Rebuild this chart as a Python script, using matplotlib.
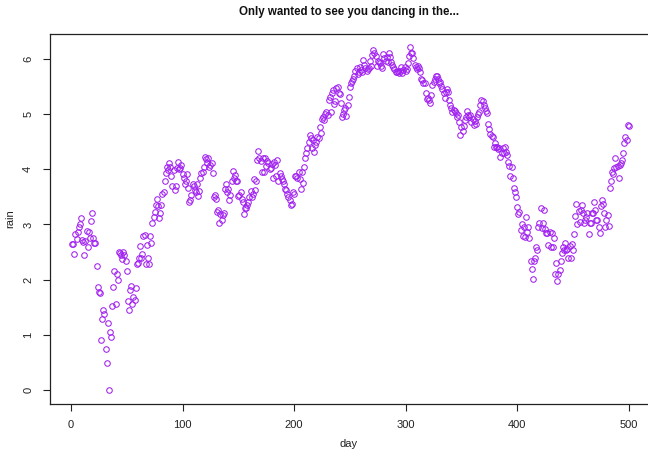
import matplotlib
matplotlib.use("Agg")
import matplotlib.pyplot as plt
import numpy as np

# daily rain values, day 1..500
rain = [
    2.65, 2.65, 2.46, 2.83, 2.74, 2.86, 2.95, 3.00, 3.11, 2.72,
    2.69, 2.44, 2.70, 2.89, 2.60, 2.86, 2.76, 3.07, 3.21, 2.76,
    2.66, 2.66, 2.24, 1.86, 1.77, 1.75, 0.90, 1.28, 1.45, 1.37,
    0.74, 0.49, 1.22, 0.00, 1.06, 0.96, 1.52, 1.87, 2.16, 1.56,
    2.10, 2.00, 2.51, 2.48, 2.45, 2.37, 2.51, 2.44, 2.33, 2.16,
    1.61, 1.45, 1.82, 1.89, 1.56, 1.69, 1.64, 1.84, 2.29, 2.31,
    2.39, 2.61, 2.40, 2.47, 2.79, 2.81, 2.29, 2.63, 2.39, 2.28,
    2.79, 2.67, 3.03, 3.14, 3.23, 3.35, 3.46, 3.34, 3.11, 3.20,
    3.35, 3.55, 3.58, 3.79, 3.94, 4.04, 3.98, 4.12, 4.05, 3.88,
    3.69, 3.99, 3.63, 3.69, 4.02, 4.14, 4.01, 4.02, 4.08, 3.91,
    3.84, 3.73, 3.78, 3.91, 3.67, 3.41, 3.44, 3.53, 3.73, 3.69,
    3.63, 3.58, 3.74, 3.52, 3.60, 3.85, 3.93, 3.96, 4.05, 4.23,
    4.18, 4.11, 4.20, 4.05, 4.08, 4.12, 3.93, 3.49, 3.53, 3.47,
    3.23, 3.27, 3.03, 3.19, 3.09, 3.17, 3.20, 3.64, 3.73, 3.58,
    3.65, 3.44, 3.53, 3.79, 3.97, 3.84, 3.90, 3.78, 3.79, 3.52,
    3.53, 3.59, 3.47, 3.40, 3.19, 3.29, 3.29, 3.35, 3.40, 3.50,
    3.61, 3.49, 3.55, 3.82, 3.63, 3.79, 4.17, 4.33, 4.20, 4.15,
    3.96, 4.21, 3.96, 4.21, 4.06, 4.15, 4.12, 4.00, 4.03, 4.09,
    3.84, 4.14, 4.08, 3.88, 4.17, 3.78, 3.93, 3.87, 3.82, 3.78,
    3.74, 3.65, 3.63, 3.56, 3.50, 3.44, 3.35, 3.38, 3.58, 3.56,
    3.87, 3.88, 3.84, 3.96, 3.82, 3.64, 3.96, 3.76, 4.05, 4.20,
    4.29, 4.38, 4.50, 4.62, 4.56, 4.38, 4.53, 4.32, 4.44, 4.50,
    4.59, 4.56, 4.77, 4.65, 4.91, 4.95, 4.89, 5.00, 5.04, 4.98,
    5.26, 5.32, 5.04, 5.39, 5.44, 5.18, 5.23, 5.47, 5.50, 5.38,
    5.36, 5.21, 4.95, 5.01, 5.08, 5.11, 4.97, 5.17, 5.32, 5.50,
    5.57, 5.60, 5.63, 5.69, 5.79, 5.83, 5.72, 5.77, 5.86, 5.80,
    5.76, 5.99, 5.90, 5.83, 5.78, 5.81, 5.83, 5.97, 5.87, 6.07,
    6.16, 6.10, 6.05, 5.87, 5.97, 5.94, 5.92, 5.88, 5.83, 6.09,
    6.01, 5.97, 6.04, 5.95, 6.11, 6.03, 5.95, 5.89, 5.86, 5.82,
    5.77, 5.76, 5.78, 5.74, 5.79, 5.86, 5.75, 5.80, 5.86, 5.79,
    5.81, 5.92, 6.05, 6.21, 6.11, 6.10, 6.01, 5.89, 5.86, 5.81,
    5.87, 5.83, 5.77, 5.63, 5.62, 5.57, 5.56, 5.39, 5.27, 5.30,
    5.26, 5.21, 5.35, 5.53, 5.59, 5.63, 5.69, 5.69, 5.63, 5.57,
    5.59, 5.51, 5.45, 5.38, 5.29, 5.41, 5.45, 5.41, 5.26, 5.17,
    5.11, 5.04, 5.08, 5.06, 5.03, 4.94, 4.98, 4.85, 4.62, 4.77,
    4.70, 4.78, 4.89, 4.95, 5.06, 4.98, 4.94, 4.98, 4.86, 4.92,
    4.80, 4.88, 4.82, 4.94, 5.01, 5.04, 5.17, 5.26, 5.24, 5.17,
    5.11, 5.06, 5.03, 4.82, 4.74, 4.64, 4.60, 4.58, 4.41, 4.47,
    4.40, 4.41, 4.36, 4.38, 4.23, 4.30, 4.38, 4.30, 4.40, 4.32,
    4.26, 4.14, 4.06, 3.88, 4.04, 3.84, 3.66, 3.59, 3.50, 3.32,
    3.19, 3.23, 2.90, 3.01, 2.79, 2.95, 2.77, 3.13, 2.87, 2.96,
    2.75, 2.34, 2.19, 2.02, 2.34, 2.39, 2.59, 2.54, 2.95, 3.02,
    3.29, 2.93, 3.02, 3.26, 2.91, 2.85, 2.85, 2.63, 2.86, 2.60,
    2.85, 2.60, 2.75, 2.10, 2.31, 1.98, 2.11, 2.18, 2.33, 2.49,
    2.60, 2.54, 2.66, 2.54, 2.55, 2.40, 2.61, 2.39, 2.65, 2.54,
    2.83, 3.15, 3.37, 3.01, 3.25, 3.05, 3.26, 3.35, 3.21, 3.02,
    3.08, 3.14, 3.20, 2.83, 3.03, 3.02, 3.21, 3.20, 3.41, 3.26,
    3.08, 3.08, 2.95, 2.85, 3.33, 3.45, 3.38, 3.21, 2.96, 3.08,
    3.17, 2.97, 3.67, 3.79, 3.96, 3.91, 4.03, 4.20, 4.05, 4.06,
    3.84, 4.08, 4.11, 4.17, 4.29, 4.48, 4.58, 4.53, 4.80, 4.78,
]
days = np.arange(1, len(rain) + 1)

x_ticks = [0, 100, 200, 300, 400, 500]
y_ticks = [0, 1, 2, 3, 4, 5, 6]
title = "Only wanted to see you dancing in the..."

plt.rcParams["font.family"] = ["Liberation Sans", "DejaVu Sans"]

W, H = 648, 450
fig = plt.figure(figsize=(W / 100, H / 100), dpi=100)

# plot region in pixels (R base layout, right edge falls just off the image)
left, right, top, bottom = 49.8, 651.0, 33.7, 403.7
ax = fig.add_axes([left / W, 1 - bottom / H, (right - left) / W, (bottom - top) / H])

ax.plot(days, rain, linestyle="none", marker="o", markersize=4.0,
        markerfacecolor="none", markeredgecolor="#a020f0", markeredgewidth=0.75)

# R pads the data range by 4%
xr = days.max() - days.min()
yr = max(rain) - min(rain)
ax.set_xlim(days.min() - 0.04 * xr, days.max() + 0.04 * xr)
ax.set_ylim(min(rain) - 0.04 * yr, max(rain) + 0.04 * yr)

ax.set_xticks(x_ticks)
ax.set_yticks(y_ticks)
ax.set_yticklabels([str(t) for t in y_ticks], rotation=90, va="center")
ax.tick_params(direction="out", length=5, width=0.8, labelsize=8,
               colors="#222222", pad=7)
for s in ax.spines.values():
    s.set_linewidth(0.9)
    s.set_color("#222222")
ax.spines["right"].set_visible(False)

fig.text(0.5 * (left + 648) / W, 1 - 12 / H, title, ha="center", va="center",
         fontsize=8.3, fontweight="bold", color="#111111")
fig.text(0.5 * (left + 648) / W, 1 - 444 / H, "day", ha="center", va="center",
         fontsize=8, color="#222222")
fig.text(10 / W, 1 - 218.7 / H, "rain", ha="center", va="center",
         rotation=90, fontsize=8, color="#222222")

fig.savefig("out.png", dpi=100)
